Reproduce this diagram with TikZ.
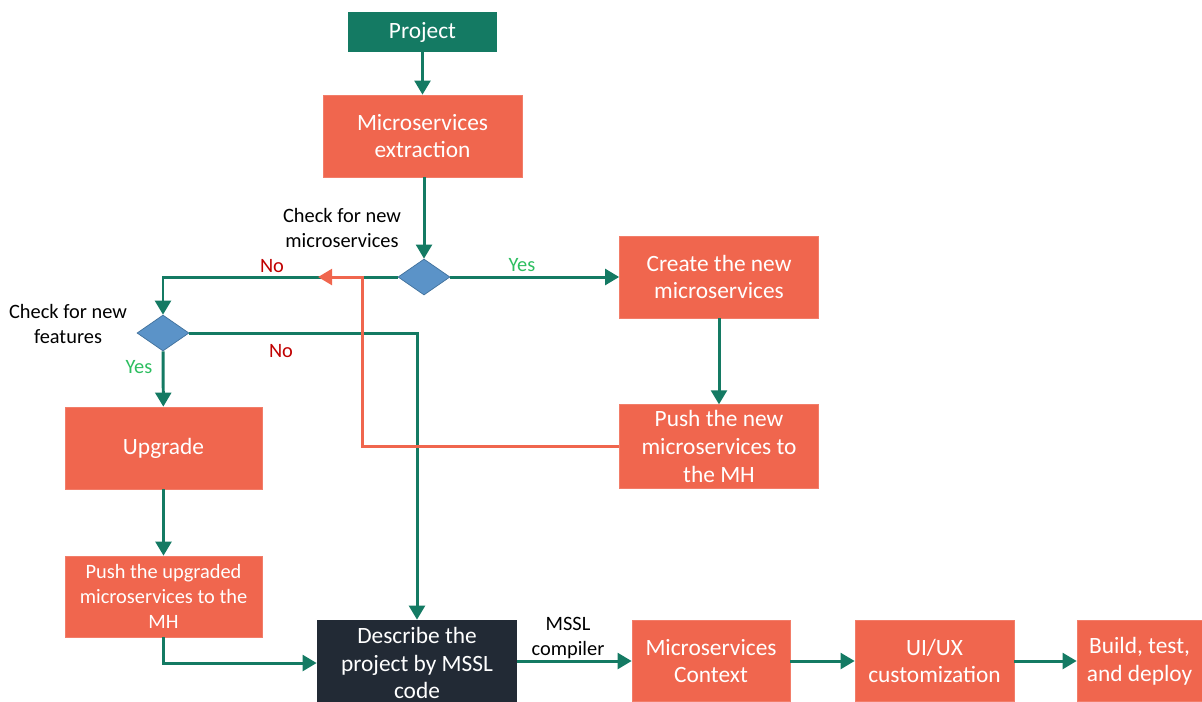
\documentclass[tikz,border=0pt]{standalone}
\usepackage{fontspec}
\setmainfont{Carlito}
\usepackage{xcolor}
\usetikzlibrary{shapes,arrows.meta,positioning,calc}

\definecolor{teal1}{HTML}{147A63}
\definecolor{coral}{HTML}{F0664E}
\definecolor{navy1}{HTML}{222A35}
\definecolor{blue1}{HTML}{5B93C8}
\definecolor{blue2}{HTML}{41719C}
\definecolor{yesgreen}{HTML}{2DBE60}
\definecolor{nored}{HTML}{C00000}

\begin{document}
\begin{tikzpicture}[
    x=0.02cm, y=-0.02cm,
    start/.style={rectangle, fill=teal1, text=white, minimum width=2.98cm, minimum height=0.8cm, font=\fontsize{13.3}{16}\selectfont},
    process/.style={rectangle, fill=coral, draw=coral!85!white, text=white, minimum width=3.98cm, minimum height=1.64cm, align=center, font=\fontsize{13.3}{15.8}\selectfont},
    dark/.style={rectangle, fill=navy1, text=white, minimum width=4cm, minimum height=1.72cm, align=center, font=\fontsize{13.3}{15.8}\selectfont},
    decision/.style={diamond, fill=blue1, draw=blue2, thin, minimum width=1.04cm, minimum height=0.72cm, inner sep=0pt},
    note/.style={align=center, font=\fontsize{11.6}{13.9}\selectfont},
    arrow/.style={-{Triangle[length=8pt,width=9pt]}, line width=1.7pt, teal1},
    back/.style={-{Triangle[length=8pt,width=9pt]}, line width=1.7pt, coral},
    yes/.style={text=yesgreen, font=\fontsize{11.6}{13}\selectfont},
    no/.style={text=nored, font=\fontsize{11.6}{13}\selectfont}
]
\clip (0,0) rectangle (1202,701);

% Top of the flow
\node[start] (proj) at (422.5, 32) {Project};
\node[process] (ext) at (422.5, 136) {Microservices\\extraction};
\node[decision] (chk1) at (424, 277) {};
\node[note] at (342, 228) {Check for new\\microservices};

% New microservices
\node[process] (create) at (719, 277) {Create the new\\microservices};
\node[process] (pushnew) at (719, 446.5) {Push the new\\microservices to\\the MH};

% New features
\node[decision] (chk2) at (163, 333) {};
\node[note] at (68, 324) {Check for new\\features};
\node[process, minimum width=3.94cm] (upg) at (163.5, 448) {Upgrade};
\node[process, minimum width=3.94cm, minimum height=1.62cm, font=\fontsize{11.6}{14}\selectfont] (pushup) at (163.5, 596.5) {Push the upgraded\\microservices to the\\MH};

% Bottom row
\node[dark] (desc) at (417, 663) {Describe the\\project by MSSL\\code};
\node[process, minimum width=3.16cm, minimum height=1.62cm] (ctx) at (711, 661) {Microservices\\Context};
\node[process, minimum width=3.18cm, minimum height=1.62cm] (ui) at (934.5, 661) {UI/UX\\customization};
\node[process, minimum width=2.5cm, minimum height=1.62cm] (build) at (1139.5, 661) {Build, test,\\and deploy};

% Arrows
\draw[arrow] (proj) -- (ext);
\draw[arrow] (ext.south -| chk1) -- (chk1);
\draw[arrow] (chk1) -- (create);
\draw[arrow] (create) -- (pushnew);
\draw[arrow] (chk1.west) -| (chk2.north);
\draw[arrow] (chk2.east) -| (desc.north);
\draw[arrow] (chk2) -- (upg);
\draw[arrow] (upg) -- (pushup);
\draw[arrow] (pushup.south) |- (desc.west);
\draw[arrow] (desc.east |- ctx) -- (ctx);
\draw[arrow] (ctx) -- (ui);
\draw[arrow] (ui) -- (build);

% Return path
\coordinate (bend) at (362, 277);
\coordinate (ret) at (318, 277);
\draw[back] (pushnew.west) -| (bend) -- (ret);

% Labels
\node[yes] (y1) at (522, 265) {Yes};
\node[no] (n1) at (272, 266) {No};
\node[yes] (y2) at (139, 367) {Yes};
\node[no] (n2) at (281, 351) {No};
\node[note] (cmp) at (568, 638) {MSSL\\compiler};

\end{tikzpicture}
\end{document}
